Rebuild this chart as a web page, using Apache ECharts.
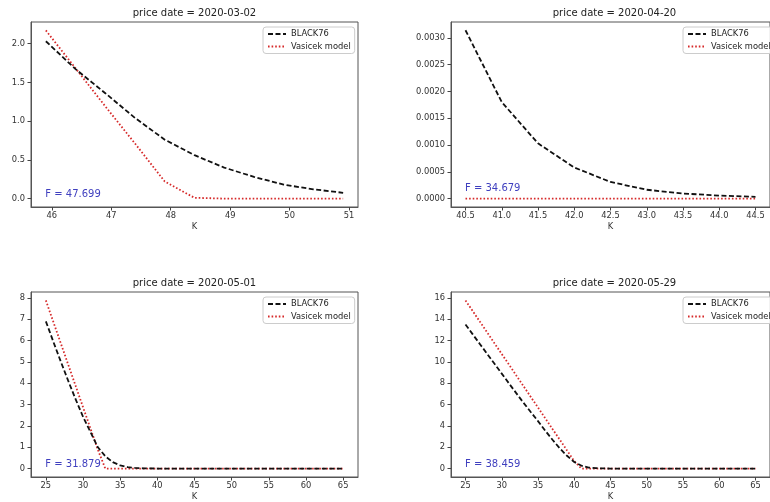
<!DOCTYPE html>
<html>
<head>
<meta charset="utf-8">
<title>price date panels</title>
<script src="https://cdn.jsdelivr.net/npm/echarts@6/dist/echarts.min.js"></script>
<style>
  html, body { margin: 0; padding: 0; background: #fff; }
  #chart { width: 770px; height: 502px; }
</style>
</head>
<body>
<div id="chart"></div>
<script>
// panel 1: 2020-03-02
const strikes1 = [45.9, 46.4, 46.9, 47.4, 47.9, 48.4, 48.9, 49.4, 49.9, 50.4, 50.9];
const black1 = [2.03, 1.67, 1.36, 1.04, 0.76, 0.56, 0.40, 0.28, 0.18, 0.12, 0.075];
const vasicek1 = [2.17, 1.68, 1.19, 0.71, 0.22, 0.01, 0, 0, 0, 0, 0];
const xTicks1 = [46, 47, 48, 49, 50, 51];
const yTicks1 = [0, 0.5, 1, 1.5, 2];

// panel 2: 2020-04-20
const strikes2 = [40.5, 41, 41.5, 42, 42.5, 43, 43.5, 44, 44.5];
const black2 = [0.00314, 0.00180, 0.00103, 0.00058, 0.00031, 0.000165, 0.000095, 0.000056, 0.000033];
const vasicek2 = [0, 0, 0, 0, 0, 0, 0, 0, 0];
const xTicks2 = [40.5, 41, 41.5, 42, 42.5, 43, 43.5, 44, 44.5];
const yTicks2 = [0, 0.0005, 0.001, 0.0015, 0.002, 0.0025, 0.003];

// panel 3: 2020-05-01
const strikes3 = [25, 26, 27, 28, 29, 30, 31, 32, 33, 34, 35, 36, 37, 38, 39, 40, 41, 42, 43, 44, 45,
  46, 47, 48, 49, 50, 51, 52, 53, 54, 55, 56, 57, 58, 59, 60, 61, 62, 63, 64, 65];
const black3 = [6.9, 5.95, 5.02, 4.12, 3.25, 2.43, 1.72, 1.0, 0.58, 0.3, 0.15, 0.07, 0.035, 0.015, 0.007, 0.003, 0.001, 0, 0, 0, 0,
  0, 0, 0, 0, 0, 0, 0, 0, 0, 0, 0, 0, 0, 0, 0, 0, 0, 0, 0, 0];
const vasicek3 = [7.88, 6.88, 5.88, 4.88, 3.88, 2.88, 1.88, 0.88, 0, 0, 0, 0, 0, 0, 0, 0, 0, 0, 0, 0, 0,
  0, 0, 0, 0, 0, 0, 0, 0, 0, 0, 0, 0, 0, 0, 0, 0, 0, 0, 0, 0];
const xTicks3 = [25, 30, 35, 40, 45, 50, 55, 60, 65];
const yTicks3 = [0, 1, 2, 3, 4, 5, 6, 7, 8];

// panel 4: 2020-05-29
const strikes4 = strikes3;
const black4 = [13.5, 12.58, 11.66, 10.74, 9.82, 8.9, 7.98, 7.07, 6.17, 5.3, 4.45, 3.55, 2.7, 1.9, 1.2, 0.62, 0.27, 0.1, 0.04, 0.015, 0.005,
  0, 0, 0, 0, 0, 0, 0, 0, 0, 0, 0, 0, 0, 0, 0, 0, 0, 0, 0, 0];
const vasicek4 = [15.76, 14.76, 13.75, 12.75, 11.74, 10.74, 9.74, 8.73, 7.73, 6.72, 5.72, 4.72, 3.71, 2.71, 1.7, 0.7, 0, 0, 0, 0, 0,
  0, 0, 0, 0, 0, 0, 0, 0, 0, 0, 0, 0, 0, 0, 0, 0, 0, 0, 0, 0];
const xTicks4 = xTicks3;
const yTicks4 = [0, 2, 4, 6, 8, 10, 12, 14, 16];

const FONT = 'DejaVu Sans';

// layout of the 4 axes (pixels) and axis limits
const panels = [
  { date: '2020-03-02', F: 'F = 47.699', k: strikes1, b: black1, v: vasicek1, xt: xTicks1, yt: yTicks1,
    left: 31, top: 22, xr: [45.65, 51.15], yr: [-0.1085, 2.2785], xd: 0, yd: 1, fy: 0 },
  { date: '2020-04-20', F: 'F = 34.679', k: strikes2, b: black2, v: vasicek2, xt: xTicks2, yt: yTicks2,
    left: 451, top: 22, xr: [40.3, 44.7], yr: [-0.000157, 0.003294], xd: 1, yd: 4, fy: 0.0001 },
  { date: '2020-05-01', F: 'F = 31.879', k: strikes3, b: black3, v: vasicek3, xt: xTicks3, yt: yTicks3,
    left: 31, top: 292, xr: [23, 67], yr: [-0.394, 8.274], xd: 0, yd: 0, fy: 0 },
  { date: '2020-05-29', F: 'F = 38.459', k: strikes4, b: black4, v: vasicek4, xt: xTicks4, yt: yTicks4,
    left: 451, top: 292, xr: [23, 67], yr: [-0.788, 16.548], xd: 0, yd: 0, fy: 0 }
];
const W = 327, H = 185;

const grid = [], xAxis = [], yAxis = [], title = [], legend = [], series = [];

panels.forEach((p, i) => {
  grid.push({
    left: p.left, top: p.top, width: W, height: H,
    show: true, borderColor: '#555', borderWidth: 1, backgroundColor: '#fff'
  });
  title.push({
    text: 'price date = ' + p.date,
    left: p.left + W / 2, top: p.top - 14, textAlign: 'center', padding: 0,
    textStyle: { fontFamily: FONT, fontSize: 10, fontWeight: 'normal', color: '#222' }
  });
  legend.push({
    orient: 'vertical', left: p.left + 232, top: p.top + 5,
    data: ['BLACK76', 'Vasicek model'],
    itemWidth: 18, itemHeight: 9, itemGap: 2.5, padding: [2, 4, 2, 4],
    backgroundColor: 'rgba(255,255,255,0.85)', borderColor: '#ccc', borderWidth: 1, borderRadius: 3,
    selectedMode: false,
    itemStyle: { opacity: 0 },
    textStyle: { fontFamily: FONT, fontSize: 8.3, color: '#222', lineHeight: 10 }
  });
  xAxis.push({
    type: 'value', gridIndex: i, min: p.xr[0], max: p.xr[1],
    name: 'K', nameLocation: 'middle', nameGap: 16,
    nameTextStyle: { fontFamily: FONT, fontSize: 8.3, color: '#333' },
    axisLine: { show: true, onZero: false, lineStyle: { color: '#555', width: 1 } },
    splitLine: { show: false },
    axisTick: { show: true, inside: false, length: 3.5, customValues: p.xt, lineStyle: { color: '#444' } },
    axisLabel: {
      customValues: p.xt, margin: 5,
      fontFamily: FONT, fontSize: 8.3, color: '#333',
      formatter: v => v.toFixed(p.xd)
    }
  });
  yAxis.push({
    type: 'value', gridIndex: i, min: p.yr[0], max: p.yr[1],
    axisLine: { show: true, onZero: false, lineStyle: { color: '#555', width: 1 } },
    splitLine: { show: false },
    axisTick: { show: true, inside: false, length: 3.5, customValues: p.yt, lineStyle: { color: '#444' } },
    axisLabel: {
      customValues: p.yt, margin: 6,
      fontFamily: FONT, fontSize: 8.3, color: '#333',
      formatter: v => v.toFixed(p.yd)
    }
  });
  series.push({
    name: 'BLACK76', type: 'line', xAxisIndex: i, yAxisIndex: i,
    data: p.k.map((k, j) => [k, p.b[j]]),
    symbol: 'none', z: 3,
    lineStyle: { color: '#111', width: 1.8, type: [5, 2.5] },
    itemStyle: { color: '#111' },
    markPoint: {
      symbol: 'circle', symbolSize: 1,
      itemStyle: { color: 'rgba(0,0,0,0)' },
      label: {
        show: true, formatter: p.F, position: [0, 1], align: 'left', verticalAlign: 'bottom',
        fontFamily: FONT, fontSize: 10, color: '#3f3fbf'
      },
      data: [{ coord: [p.k[0], p.fy] }]
    }
  });
  series.push({
    name: 'Vasicek model', type: 'line', xAxisIndex: i, yAxisIndex: i,
    data: p.k.map((k, j) => [k, p.v[j]]),
    symbol: 'none', z: 2,
    lineStyle: { color: '#d62a2a', width: 1.8, type: [1.6, 2] },
    itemStyle: { color: '#d62a2a' }
  });
});

const chart = echarts.init(document.getElementById('chart'), null, { renderer: 'canvas' });
chart.setOption({
  animation: false,
  backgroundColor: '#fff',
  title, legend, grid, xAxis, yAxis, series
});
</script>
</body>
</html>
